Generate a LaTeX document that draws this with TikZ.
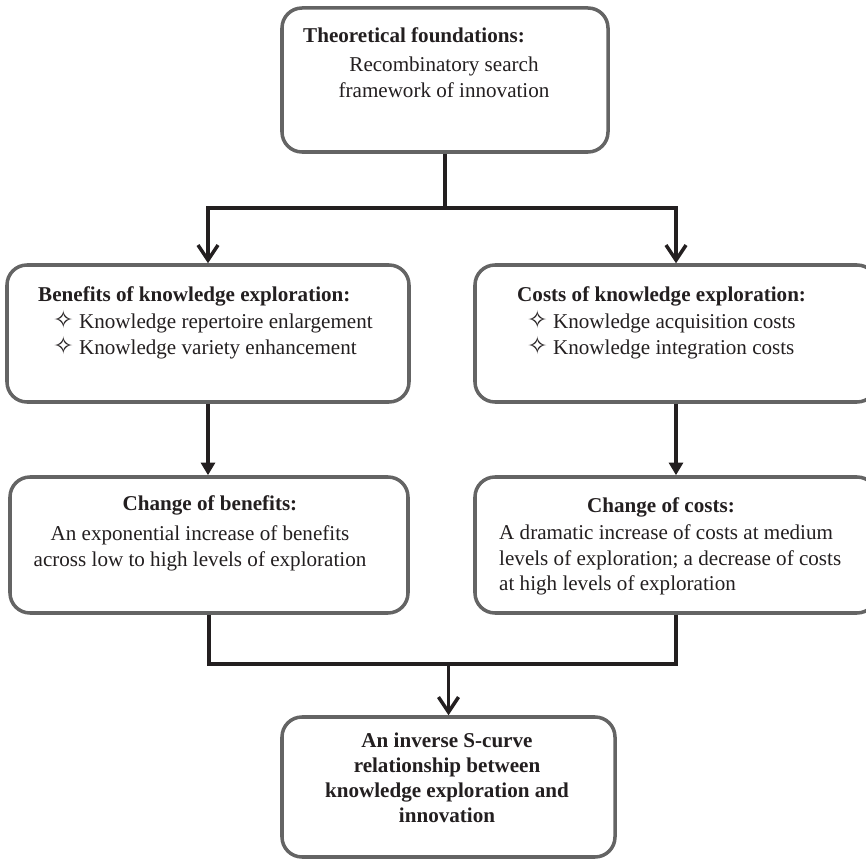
\documentclass[tikz,border=0pt]{standalone}
\usepackage{fontspec}
\setmainfont{Liberation Serif}
\newfontfamily\starfont{DejaVu Sans}
\usepackage{tikz}
\usetikzlibrary{positioning, arrows.meta}
\definecolor{BoxGray}{RGB}{100,100,100}
\definecolor{Ink}{RGB}{35,31,32}
\newcommand{\starbullet}{{\starfont\fontsize{21}{18}\selectfont ✧}\ }

\begin{document}
\begin{tikzpicture}[
          rbox/.style={rectangle, rounded corners=0.6cm, draw=BoxGray,
                       line width=3pt, fill=white},
          txt/.style={inner sep=0pt, text=Ink,
                      font=\fontsize{18}{21.5}\selectfont},
          link/.style={draw=Ink, line width=3pt},
          oarr/.style={link, -{Straight Barb[length=0.45cm, width=0.6cm]}},
          farr/.style={link, -{Triangle[length=0.38cm, width=0.42cm]}}
        ]
        \useasboundingbox (0,0) rectangle (25.98,25.74);

        % Foundations
        \node[rbox, minimum width=9.78cm, minimum height=4.32cm]
              (found) at (13.35, 23.34) {};
        \node[txt, anchor=base west]
              (foundhead) at (9.09, 24.45) {\textbf{Theoretical foundations:}};
        \node[txt, anchor=base]
              (foundbody) at (13.32, 23.58)
              {\begin{tabular}[t]{@{}c@{}}Recombinatory search\\
               framework of innovation\end{tabular}};

        % Benefits / costs
        \node[rbox, minimum width=12.06cm, minimum height=4.11cm]
              (benefits) at (6.24, 15.735) {};
        \node[txt, anchor=base west]
              (benhead) at (1.14, 16.68) {\textbf{Benefits of knowledge exploration:}};
        \node[txt, anchor=base west]
              (benlist) at (1.59, 15.87)
              {\begin{tabular}[t]{@{}l@{}}\starbullet Knowledge repertoire enlargement\\
               \starbullet Knowledge variety enhancement\end{tabular}};

        \node[rbox, minimum width=12.06cm, minimum height=4.11cm]
              (costs) at (20.28, 15.735) {};
        \node[txt, anchor=base west]
              (costhead) at (15.51, 16.68) {\textbf{Costs of knowledge exploration:}};
        \node[txt, anchor=base west]
              (costlist) at (15.81, 15.87)
              {\begin{tabular}[t]{@{}l@{}}\starbullet Knowledge acquisition costs\\
               \starbullet Knowledge integration costs\end{tabular}};

        % Changes
        \node[rbox, minimum width=11.94cm, minimum height=4.08cm]
              (chgben) at (6.27, 9.39) {};
        \node[txt, anchor=base]
              (chgbenhead) at (6.3, 10.41) {\textbf{Change of benefits:}};
        \node[txt, anchor=base]
              (chgbenbody) at (6.0, 9.51)
              {\begin{tabular}[t]{@{}c@{}}An exponential increase of benefits\\
               across low to high levels of exploration\end{tabular}};

        \node[rbox, minimum width=12.06cm, minimum height=4.08cm]
              (chgcost) at (20.28, 9.39) {};
        \node[txt, anchor=base]
              (chgcosthead) at (19.83, 10.35) {\textbf{Change of costs:}};
        \node[txt, anchor=base west]
              (chgcostbody) at (14.97, 9.54)
              {\begin{tabular}[t]{@{}l@{}}A dramatic increase of costs at medium\\
               levels of exploration; a decrease of costs\\
               at high levels of exploration\end{tabular}};

        % Result
        \node[rbox, minimum width=9.99cm, minimum height=4.2cm]
              (result) at (13.455, 2.13) {};
        \node[txt, anchor=base]
              (resulttxt) at (13.41, 3.33)
              {\bfseries\begin{tabular}[t]{@{}c@{}}An inverse S-curve\\
               relationship between\\ knowledge exploration and\\
               innovation\end{tabular}};

        % connectors
        \coordinate (split) at (13.35, 19.5);
        \coordinate (join)  at (13.455, 5.82);
        \draw[link] (found.south) -- (split);
        \draw[oarr] (split) -| (benefits.north);
        \draw[oarr] (split) -| (costs.north);
        \draw[farr] (benefits.south) -- (benefits.south |- chgben.north);
        \draw[farr] (costs.south) -- (chgcost.north);
        \draw[link] (chgben.south) |- (join) -| (chgcost.south);
        \draw[oarr] (join) -- (result.north);
      \end{tikzpicture}
\end{document}
